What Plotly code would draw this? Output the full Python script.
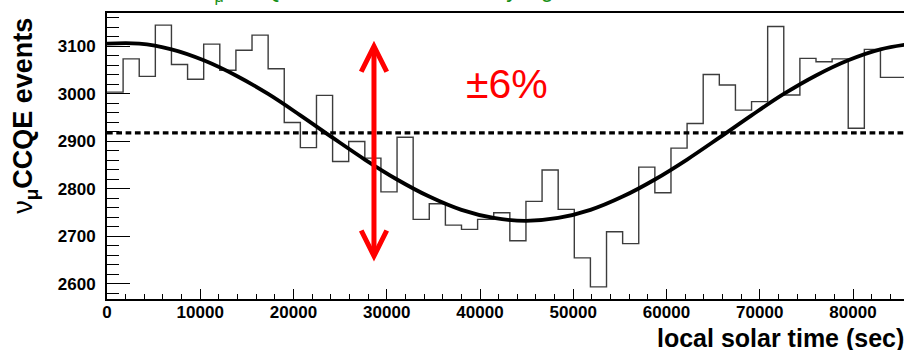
import numpy as np
import plotly.graph_objects as go

# ---------------- data ----------------
day_seconds = 86400
n_bins = 50
ccqe_counts = [3004, 3074, 3037, 3145, 3062, 3031, 3105, 3050, 3092, 3124,
               3053, 2940, 2887, 2997, 2858, 2900, 2865, 2794, 2909, 2736,
               2769, 2724, 2715, 2736, 2750, 2691, 2774, 2840, 2757, 2655,
               2594, 2710, 2685, 2846, 2792, 2886, 2938, 3041, 3019, 2966,
               2984, 3142, 2998, 3075, 3068, 3074, 2928, 3094, 3035, 3035]
fit_time = [0, 3456, 6912, 10368, 13824, 17280, 20736, 24192, 27648, 31104,
            34560, 38016, 41472, 44928, 48384, 51840, 55296, 58752, 62208,
            65664, 69120, 72576, 76032, 79488, 82944, 86400]
fit_values = [3106, 3106, 3094, 3071, 3039, 3000, 2955, 2908, 2862, 2820,
              2784, 2756, 2739, 2733, 2739, 2756, 2784, 2820, 2862, 2908,
              2955, 3000, 3039, 3071, 3094, 3106]
mean_level = 2918
arrow_time = 28630
arrow_low = 2644
arrow_high = 3112
label_text = "±6%"
label_time = 42900
label_value = 3022

bin_edges = np.linspace(0, day_seconds, n_bins + 1)

fig = go.Figure()

# histogram outline
fig.add_trace(go.Scatter(
    x=bin_edges, y=ccqe_counts + [ccqe_counts[-1]],
    mode="lines", line=dict(color="#3c3c3c", width=1.4, shape="hv"),
    hoverinfo="skip", showlegend=False))

# mean level (dashed)
fig.add_trace(go.Scatter(
    x=[0, day_seconds], y=[mean_level, mean_level],
    mode="lines", line=dict(color="black", width=3.3, dash="5.7px,3.6px"),
    showlegend=False))

# fitted curve
fig.add_trace(go.Scatter(
    x=fit_time, y=fit_values, mode="lines",
    line=dict(color="black", width=3.8, shape="spline"),
    showlegend=False))

# red double-headed arrow
fig.add_annotation(
    x=arrow_time, y=arrow_high, ax=arrow_time, ay=arrow_low,
    xref="x", yref="y", axref="x", ayref="y",
    text="", showarrow=True, arrowside="end+start",
    arrowhead=5, startarrowhead=5, arrowsize=1, startarrowsize=1,
    arrowwidth=5, arrowcolor="#ff0000", standoff=0, startstandoff=0)

fig.add_annotation(
    x=label_time, y=label_value, xref="x", yref="y",
    text=label_text, showarrow=False, xanchor="center", yanchor="middle",
    font=dict(family="Liberation Sans, Arial", size=41, color="#ff0000"))

# axis titles
fig.add_annotation(
    x=1.0, y=-0.135, xref="paper", yref="paper", xshift=2,
    text="local solar time (sec)", showarrow=False,
    xanchor="right", yanchor="middle",
    font=dict(family="Liberation Sans, Arial", size=25, color="black", weight="bold"))
fig.add_annotation(
    x=-0.103, y=0.64, xref="paper", yref="paper",
    text="<span style='font-weight:normal'>ν</span><sub>μ</sub>CCQE events",
    showarrow=False, textangle=-90, xanchor="center", yanchor="middle",
    font=dict(family="Liberation Sans, Arial", size=27, color="black", weight="bold"))

# green title, mostly cut off at the top of the page
fig.add_annotation(
    x=0.118, y=1.021, xref="paper", yref="paper",
    text="ν<sub>μ</sub> CCQE, simulated solar daily signal",
    showarrow=False, xanchor="left", yanchor="bottom",
    font=dict(family="Liberation Sans, Arial", size=23, color="#169016"))

tick_font = dict(family="Liberation Sans, Arial", size=17, color="black", weight="bold")

fig.update_layout(
    width=904, height=350,
    margin=dict(l=107, r=0, t=13, b=51, pad=0),
    paper_bgcolor="white", plot_bgcolor="white",
    showlegend=False,
    xaxis=dict(range=[0, 85469], showgrid=False, zeroline=False,
               showline=True, linecolor="black", linewidth=2, mirror=True,
               ticks="inside", ticklen=10, tickwidth=1.3, tickcolor="black",
               tick0=0, dtick=10000, tickformat="d", tickfont=tick_font,
               ticklabelstandoff=-3,
               minor=dict(ticks="inside", ticklen=5, dtick=2000, tickwidth=1.3,
                          tickcolor="black", showgrid=False)),
    yaxis=dict(range=[2568.4, 3170.5], showgrid=False, zeroline=False,
               showline=True, linecolor="black", linewidth=2, mirror=False,
               ticks="inside", ticklen=23, tickwidth=1.3, tickcolor="black",
               tick0=0, dtick=100, tickformat="d", tickfont=tick_font,
               ticklabelstandoff=6,
               minor=dict(ticks="inside", ticklen=12, dtick=20, tickwidth=1.3,
                          tickcolor="black", showgrid=False)),
)

fig.write_html("out.html")
